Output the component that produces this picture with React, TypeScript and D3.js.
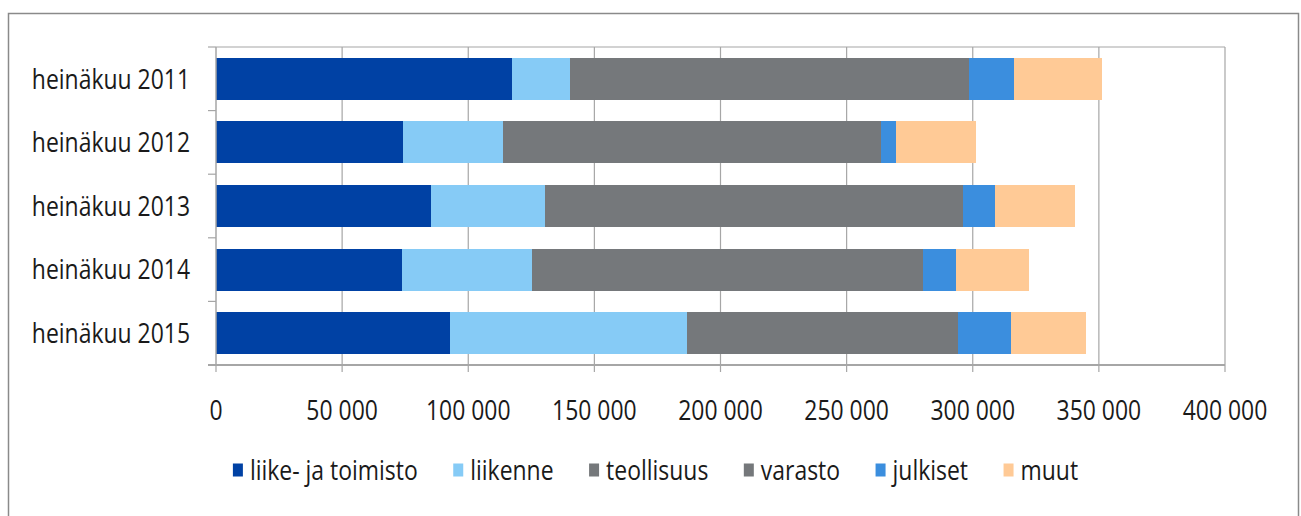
import React, { useEffect, useRef } from "react";
import * as d3 from "d3";

const categories = ["heinäkuu 2011", "heinäkuu 2012", "heinäkuu 2013", "heinäkuu 2014", "heinäkuu 2015"];
const seriesNames = ["liike- ja toimisto", "liikenne", "teollisuus", "varasto", "julkiset", "muut"];
const liikeJaToimisto = [117200, 74100, 85400, 73600, 92900];
const liikenne = [23300, 39500, 45000, 51800, 93800];
const teollisuus = [75000, 70000, 80000, 72000, 50000];
const varasto = [83100, 79900, 85700, 82900, 57300];
const julkiset = [17700, 6100, 12600, 13200, 21300];
const muut = [34800, 31800, 32000, 28800, 29500];
const xTicks = [0, 50000, 100000, 150000, 200000, 250000, 300000, 350000, 400000];
const colors = ["#0041A4", "#86CBF6", "#75787B", "#75787B", "#3B8EDE", "#FFCA96"];

const W = 1301;
const H = 516;
const FONT = "'Open Sans', 'DejaVu Sans', sans-serif";
const SX = 0.85;

export default function App() {
  const ref = useRef<SVGSVGElement>(null);

  useEffect(() => {
    const svg = d3.select(ref.current);
    svg.selectAll("*").remove();

    const seriesValues = [liikeJaToimisto, liikenne, teollisuus, varasto, julkiset, muut];
    const rows = categories.map((c, i) => {
      const r: any = { cat: c };
      seriesNames.forEach((s, j) => (r[s] = seriesValues[j][i]));
      return r;
    });
    const stacked = d3.stack<any>().keys(seriesNames)(rows);

    const left = 216, right = 1225, top = 47, bottom = 365;
    const x = d3.scaleLinear().domain([0, 400000]).range([left, right]);
    const y = d3.scaleBand().domain(categories).range([top, bottom]).paddingInner(0.34).paddingOuter(0.17);

    // outer border
    svg.append("rect").attr("x", 8.5).attr("y", 13.5).attr("width", 1290).attr("height", 520)
      .attr("fill", "#fff").attr("stroke", "#8a8a8a").attr("stroke-width", 1.5);

    const grid = "#a6a6a6";
    // gridlines
    svg.append("g").selectAll("line").data(xTicks.slice(1)).join("line")
      .attr("x1", (d) => x(d)).attr("x2", (d) => x(d)).attr("y1", top).attr("y2", bottom)
      .attr("stroke", grid).attr("stroke-width", 1.2);
    // top border of plot
    svg.append("line").attr("x1", left).attr("x2", right).attr("y1", top).attr("y2", top)
      .attr("stroke", grid).attr("stroke-width", 1.2);

    // bars
    svg.append("g").attr("shape-rendering", "crispEdges").selectAll("g").data(stacked).join("g")
      .attr("fill", (_d, i) => colors[i])
      .selectAll("rect").data((d) => d).join("rect")
      .attr("x", (d) => Math.round(x(d[0])))
      .attr("width", (d) => Math.round(x(d[1])) - Math.round(x(d[0])))
      .attr("y", (d) => Math.round(y(d.data.cat)!))
      .attr("height", Math.round(y.bandwidth()));

    // left axis
    svg.append("line").attr("x1", left).attr("x2", left).attr("y1", top).attr("y2", bottom)
      .attr("stroke", grid).attr("stroke-width", 1.5);
    const step = (bottom - top) / categories.length;
    svg.append("g").selectAll("line").data(d3.range(categories.length + 1)).join("line")
      .attr("x1", left - 8).attr("x2", left).attr("y1", (i) => top + i * step).attr("y2", (i) => top + i * step)
      .attr("stroke", grid).attr("stroke-width", 1.2);
    // bottom axis
    svg.append("line").attr("x1", left - 8).attr("x2", right).attr("y1", bottom).attr("y2", bottom)
      .attr("stroke", grid).attr("stroke-width", 2);
    svg.append("g").selectAll("line").data(xTicks).join("line")
      .attr("x1", (d) => x(d)).attr("x2", (d) => x(d)).attr("y1", bottom).attr("y2", bottom + 7)
      .attr("stroke", grid).attr("stroke-width", 1.2);

    const fmt = (v: number) => d3.format(",")(v).replace(/,/g, " ");
    // x labels
    svg.append("g").selectAll("text").data(xTicks).join("text")
      .attr("transform", (d) => `translate(${x(d)},${410}) scale(${SX},1)`)
      .attr("text-anchor", "middle").attr("dy", "0.36em")
      .attr("font-family", FONT).attr("font-size", 27).attr("fill", "#1a1a1a")
      .text((d) => fmt(d));

    // category labels
    svg.append("g").selectAll("text").data(categories).join("text")
      .attr("transform", (d) => `translate(${190},${y(d)! + y.bandwidth() / 2}) scale(${SX},1)`)
      .attr("text-anchor", "end").attr("dy", "0.36em")
      .attr("font-family", FONT).attr("font-size", 27).attr("fill", "#1a1a1a")
      .text((d) => d);

    // legend
    const lg = svg.append("g");
    const items = lg.selectAll("g").data(seriesNames).join("g");
    items.append("rect").attr("width", 10).attr("height", 13).attr("y", -6.5).attr("fill", (_d, i) => colors[i]);
    const texts = items.append("text")
      .attr("transform", `translate(17,0) scale(${SX},1)`)
      .attr("dy", "0.36em")
      .attr("font-family", FONT).attr("font-size", 27).attr("fill", "#1a1a1a")
      .text((d) => d);
    const widths: number[] = [];
    texts.each(function () {
      widths.push((this as SVGTextElement).getComputedTextLength() * SX);
    });
    const gap = 35.5;
    let cx = 0;
    const offs: number[] = [];
    widths.forEach((w) => {
      offs.push(cx);
      cx += 17 + w + gap;
    });
    const total = cx - gap;
    const startX = 655.5 - total / 2;
    items.attr("transform", (_d, i) => `translate(${startX + offs[i]},${470})`);
  }, []);

  return <svg ref={ref} width={W} height={H} style={{ display: "block", position: "absolute", left: 0, top: 0 }} />;
}
